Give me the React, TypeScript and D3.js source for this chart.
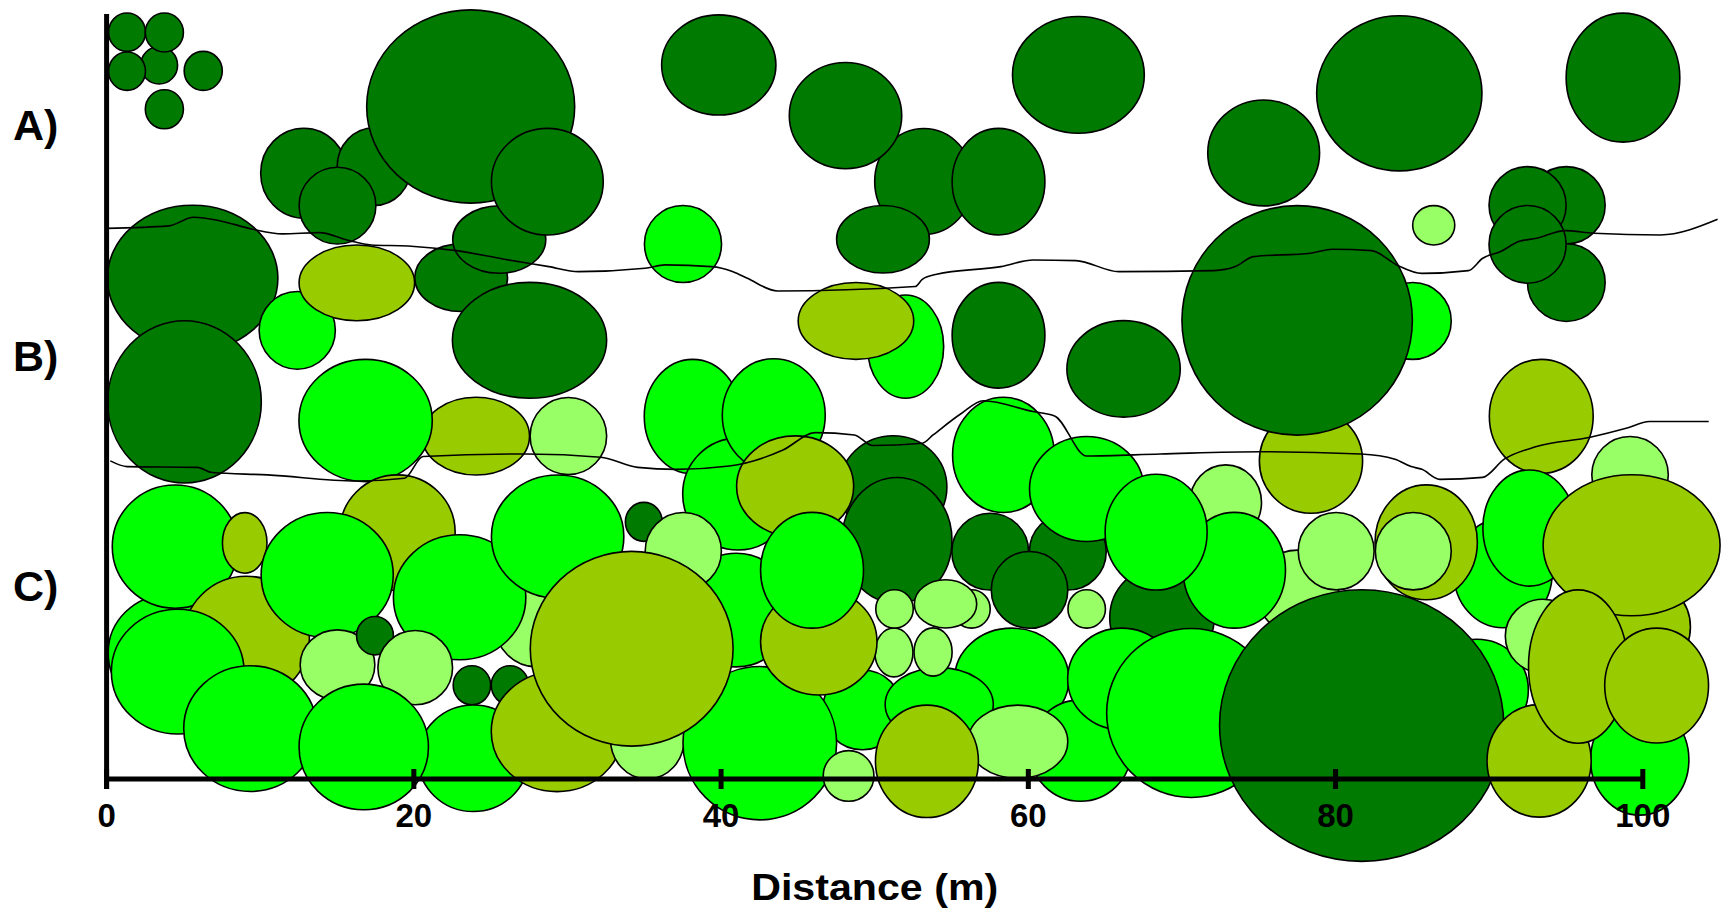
import React from "react";
import * as d3 from "d3";

// crown = [distance (m), height (m), half width (m), half depth (m), class]
type Crown = [number, number, number, number, string];

const backCrowns: Crown[] = [
  [3.42, 46.47, 1.2, 1.22, "D"],
  [1.33, 48.62, 1.2, 1.25, "D"],
  [3.76, 48.6, 1.24, 1.27, "D"],
  [1.33, 46.08, 1.2, 1.25, "D"],
  [6.29, 46.1, 1.24, 1.27, "D"],
  [3.76, 43.6, 1.24, 1.27, "D"],
  [12.84, 39.44, 2.81, 2.93, "D"],
  [17.42, 39.87, 2.41, 2.53, "D"],
  [23.7, 43.78, 6.77, 6.29, "D"],
  [15.03, 37.33, 2.5, 2.5, "D"],
  [23.08, 32.64, 3.02, 2.2, "D"],
  [25.56, 35.12, 3.03, 2.19, "D"],
  [28.69, 38.89, 3.64, 3.47, "D"],
  [27.53, 28.56, 5.02, 3.77, "D"],
  [5.6, 32.6, 5.55, 4.75, "D"],
  [12.41, 29.21, 2.48, 2.53, "G"],
  [5.07, 24.55, 5.0, 5.28, "D"],
  [16.29, 32.3, 3.76, 2.47, "O"],
  [37.52, 34.83, 2.51, 2.51, "G"],
  [39.85, 46.49, 3.72, 3.26, "D"],
  [53.2, 38.9, 3.2, 3.45, "D"],
  [48.1, 43.19, 3.66, 3.46, "D"],
  [58.06, 38.89, 3.02, 3.47, "D"],
  [50.54, 35.14, 3.02, 2.2, "D"],
  [63.26, 45.84, 4.29, 3.8, "D"],
  [52.01, 28.15, 2.48, 3.36, "G"],
  [48.78, 29.82, 3.76, 2.5, "O"],
  [58.06, 28.89, 3.02, 3.44, "D"],
  [66.2, 26.7, 3.69, 3.14, "D"],
  [75.32, 40.76, 3.64, 3.45, "D"],
  [84.15, 44.64, 5.38, 5.05, "D"],
  [98.71, 45.66, 3.7, 4.2, "D"],
  [86.39, 36.05, 1.37, 1.28, "L"],
  [95.02, 37.35, 2.53, 2.52, "D"],
  [95.02, 32.32, 2.53, 2.53, "D"],
  [92.5, 37.35, 2.51, 2.52, "D"],
  [92.5, 34.81, 2.51, 2.53, "D"],
  [78.4, 20.7, 3.36, 3.4, "O"],
  [85.03, 29.82, 2.5, 2.5, "G"],
  [77.5, 29.86, 7.5, 7.47, "D"],
  [93.39, 23.61, 3.38, 3.71, "O"],
];

const middleCrowns: Crown[] = [
  [24.04, 22.32, 3.49, 2.53, "O"],
  [16.86, 23.34, 4.34, 3.98, "G"],
  [30.06, 22.33, 2.49, 2.51, "L"],
  [38.15, 23.6, 3.15, 3.72, "G"],
  [41.1, 18.55, 3.6, 3.64, "G"],
  [43.43, 23.68, 3.35, 3.68, "G"],
  [51.2, 19.0, 3.5, 3.35, "D"],
  [44.82, 19.06, 3.81, 3.28, "O"],
  [51.45, 15.54, 3.58, 4.09, "D"],
  [58.38, 21.1, 3.31, 3.75, "G"],
  [62.57, 14.8, 2.5, 2.5, "D"],
  [63.8, 18.88, 3.72, 3.42, "G"],
  [72.85, 18.0, 2.33, 2.45, "L"],
  [68.7, 10.5, 3.4, 3.4, "D"],
  [77.5, 12.2, 2.7, 2.7, "L"],
  [73.41, 13.59, 3.33, 3.77, "G"],
  [68.32, 16.07, 3.32, 3.77, "G"],
  [99.17, 19.8, 2.49, 2.5, "L"],
  [4.0, 8.2, 3.9, 3.8, "G"],
  [4.46, 15.13, 4.09, 4.01, "G"],
  [8.99, 15.37, 1.45, 1.97, "O"],
  [9.1, 9.15, 4.1, 4.05, "O"],
  [18.93, 16.04, 3.76, 3.76, "O"],
  [14.36, 13.28, 4.3, 4.07, "G"],
  [28.0, 10.0, 2.7, 2.7, "L"],
  [22.98, 11.83, 4.31, 4.07, "G"],
  [29.36, 15.78, 4.31, 4.01, "G"],
  [34.97, 16.74, 1.2, 1.27, "D"],
  [41.0, 11.0, 3.6, 3.7, "G"],
  [37.54, 14.83, 2.48, 2.52, "L"],
];

const frontCrowns: Crown[] = [
  [15.03, 7.43, 2.43, 2.28, "L"],
  [17.47, 9.33, 1.2, 1.25, "D"],
  [20.09, 7.25, 2.43, 2.42, "L"],
  [4.63, 6.99, 4.32, 4.06, "G"],
  [23.78, 6.1, 1.22, 1.27, "D"],
  [26.26, 6.1, 1.22, 1.27, "D"],
  [9.35, 3.28, 4.33, 4.09, "G"],
  [23.87, 1.35, 3.59, 3.47, "G"],
  [16.74, 2.09, 4.21, 4.09, "G"],
  [29.32, 3.09, 4.28, 3.91, "O"],
  [35.2, 2.6, 2.4, 2.6, "L"],
  [49.2, 4.5, 2.6, 2.6, "G"],
  [42.52, 2.33, 5.0, 4.99, "G"],
  [34.18, 8.48, 6.6, 6.34, "O"],
  [48.3, 0.2, 1.65, 1.65, "L"],
  [58.92, 6.51, 3.72, 3.31, "G"],
  [54.2, 4.85, 3.52, 2.4, "G"],
  [51.25, 8.24, 1.24, 1.59, "L"],
  [53.8, 8.27, 1.24, 1.57, "L"],
  [46.36, 8.94, 3.79, 3.47, "O"],
  [45.92, 13.59, 3.35, 3.77, "G"],
  [51.29, 11.07, 1.22, 1.25, "L"],
  [56.3, 11.07, 1.22, 1.25, "L"],
  [54.61, 11.4, 2.03, 1.57, "L"],
  [57.52, 14.8, 2.5, 2.5, "D"],
  [60.08, 12.31, 2.49, 2.5, "D"],
  [63.8, 11.07, 1.22, 1.25, "L"],
  [63.4, 1.85, 3.3, 3.3, "G"],
  [59.32, 2.43, 3.25, 2.38, "L"],
  [53.4, 1.15, 3.35, 3.66, "O"],
  [66.08, 6.51, 3.52, 3.31, "G"],
  [70.6, 4.3, 5.5, 5.5, "G"],
  [90.9, 13.4, 3.2, 3.55, "G"],
  [80.04, 14.83, 2.47, 2.52, "L"],
  [85.9, 15.41, 3.33, 3.74, "O"],
  [85.06, 14.83, 2.47, 2.52, "L"],
  [89.2, 5.8, 3.35, 3.3, "G"],
  [92.62, 16.34, 3.03, 3.78, "G"],
  [100.2, 9.9, 2.9, 3.0, "O"],
  [99.27, 15.22, 5.76, 4.59, "O"],
  [93.5, 9.3, 2.45, 2.4, "L"],
  [99.8, 1.25, 3.2, 3.6, "G"],
  [81.7, 3.48, 9.25, 8.84, "D"],
  [93.25, 1.18, 3.39, 3.66, "O"],
  [95.79, 7.32, 3.23, 4.99, "O"],
  [100.9, 6.08, 3.38, 3.74, "O"],
];

const boundaryAB: [number, number][] = [
  [0, 35.85], [4.05, 36.01], [5.66, 36.57], [7.35, 36.35], [9.52, 35.79],
  [11.44, 35.49], [13.85, 35.57], [15.78, 35.05], [17.22, 34.77], [19.63, 34.7],
  [22.76, 34.4], [25.89, 33.84], [28.79, 33.36], [30.71, 33.03], [35.05, 33.25],
  [36.36, 33.47], [39.38, 33.36], [40.78, 33.03], [41.71, 32.6], [43.68, 31.77],
  [52.64, 32.06], [53.1, 32.53], [54.03, 32.86], [58.22, 33.36], [60.31, 33.79],
  [63.1, 33.75], [65.89, 33.03], [72.08, 33.1], [73.48, 33.36], [74.65, 34.01],
  [78.38, 34.23], [79.78, 34.49], [82.35, 34.4], [83.98, 33.47], [85.62, 32.92],
  [88.65, 33.1], [89.58, 33.9], [90.75, 34.34], [91.92, 34.99], [93.08, 35.2],
  [94.95, 35.7], [96.82, 35.53], [101.14, 35.42], [104.87, 36.44],
];

const boundaryBC: [number, number][] = [
  [0.24, 20.71], [1.33, 20.34], [5.9, 20.29], [6.87, 19.95], [10.48, 19.8],
  [16.26, 19.4], [19.39, 19.58], [20.6, 21.0], [27.34, 21.16], [32.16, 20.95],
  [34.57, 20.29], [37.06, 20.16], [40.54, 20.38], [44.03, 21.42], [46.13, 22.55],
  [48.68, 22.4], [49.85, 21.71], [53.1, 21.86], [53.8, 22.4], [55.66, 23.81],
  [57.06, 24.63], [60.31, 23.92], [61.71, 23.64], [63.8, 21.03], [68.58, 21.16],
  [75.11, 21.31], [81.65, 21.16], [83.87, 20.82], [84.92, 20.34], [85.62, 20.16],
  [86.78, 19.51], [89.58, 19.64], [90.98, 20.82], [93.08, 21.64], [96.58, 22.25],
  [98.92, 22.83], [100.43, 23.27], [104.29, 23.27],
];

const xTicks = [0, 20, 40, 60, 80, 100];
const strataLabels = ["A)", "B)", "C)"];

const fills: Record<string, string> = {
  D: "#007a00",
  G: "#00ff00",
  O: "#99cc00",
  L: "#99ff66",
};

export default function App() {
  const width = 1722;
  const height = 917;
  const axisY = 779;

  const x = d3.scaleLinear().domain([0, 100]).range([106.6, 1642.8]);
  const y = d3.scaleLinear().domain([0, 50]).range([axisY, axisY - 768]);

  const line = d3
    .line<[number, number]>()
    .x((d) => x(d[0]))
    .y((d) => y(d[1]))
    .curve(d3.curveMonotoneX);

  const font = "'Liberation Sans', Arial, sans-serif";
  const labelBaselines = [140, 371, 601];

  const crowns = [...backCrowns, ...middleCrowns, ...frontCrowns];

  return (
    <svg
      width={width}
      height={height}
      style={{ position: "absolute", left: 0, top: 0, background: "#fff" }}
    >
      <g>
        {crowns.map((c, i) => (
          <ellipse
            key={i}
            cx={x(c[0])}
            cy={y(c[1])}
            rx={x(c[2]) - x(0)}
            ry={y(0) - y(c[3])}
            fill={fills[c[4]]}
            stroke="#000"
            strokeWidth={1.6}
          />
        ))}
      </g>
      <path d={line(boundaryAB) || ""} fill="none" stroke="#000" strokeWidth={1.6} />
      <path d={line(boundaryBC) || ""} fill="none" stroke="#000" strokeWidth={1.6} />

      {/* axes */}
      <line x1={x(0)} x2={x(0)} y1={14} y2={axisY + 10} stroke="#000" strokeWidth={5} />
      <line x1={x(0)} x2={x(100)} y1={axisY} y2={axisY} stroke="#000" strokeWidth={5} />
      {xTicks.map((t) => (
        <g key={t}>
          <line x1={x(t)} x2={x(t)} y1={axisY - 10} y2={axisY + 10} stroke="#000" strokeWidth={5} />
          <text
            x={x(t)}
            y={827}
            textAnchor="middle"
            fontFamily={font}
            fontWeight="bold"
            fontSize={33}
            fill="#000"
          >
            {t}
          </text>
        </g>
      ))}
      <text
        x={(x(0) + x(100)) / 2}
        y={900}
        textAnchor="middle"
        fontFamily={font}
        fontWeight="bold"
        fontSize={36}
        textLength={247}
        lengthAdjust="spacingAndGlyphs"
        fill="#000"
      >
        Distance (m)
      </text>
      {strataLabels.map((s, i) => (
        <text
          key={s}
          x={13}
          y={labelBaselines[i]}
          fontFamily={font}
          fontWeight="bold"
          fontSize={43}
          fill="#000"
        >
          {s}
        </text>
      ))}
    </svg>
  );
}
